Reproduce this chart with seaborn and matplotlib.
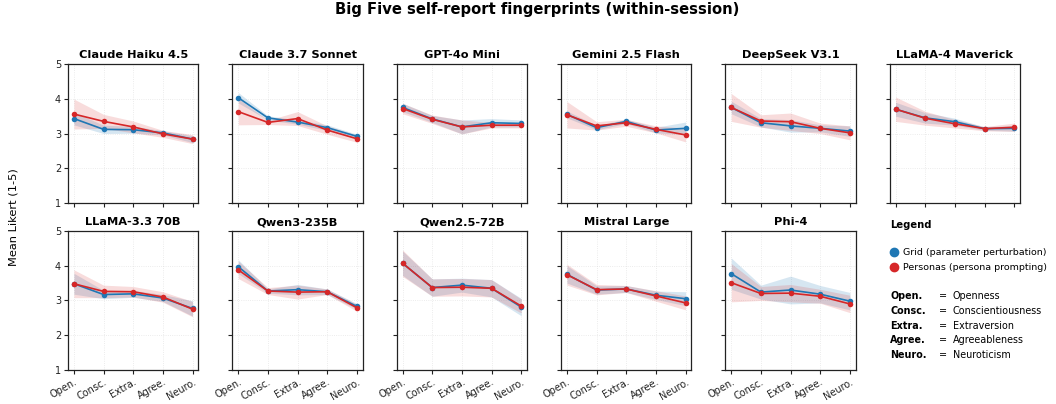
import numpy as np
import pandas as pd
import seaborn as sns
import matplotlib
matplotlib.use("Agg")
import matplotlib.pyplot as plt

traits = ["Open.", "Consc.", "Extra.", "Agree.", "Neuro."]
trait_names = ["Openness", "Conscientiousness", "Extraversion", "Agreeableness", "Neuroticism"]
models = ["Claude Haiku 4.5", "Claude 3.7 Sonnet", "GPT-4o Mini", "Gemini 2.5 Flash",
          "DeepSeek V3.1", "LLaMA-4 Maverick", "LLaMA-3.3 70B", "Qwen3-235B",
          "Qwen2.5-72B", "Mistral Large", "Phi-4"]

# mean scores per model (grid = parameter perturbation, persona = persona prompting)
grid_mean = [
    [3.43, 3.12, 3.11, 3.02, 2.84],
    [4.03, 3.45, 3.33, 3.17, 2.92],
    [3.75, 3.42, 3.19, 3.31, 3.29],
    [3.55, 3.17, 3.35, 3.10, 3.15],
    [3.75, 3.31, 3.22, 3.15, 3.07],
    [3.70, 3.45, 3.34, 3.14, 3.15],
    [3.48, 3.17, 3.19, 3.07, 2.77],
    [3.97, 3.27, 3.31, 3.25, 2.83],
    [4.07, 3.37, 3.44, 3.35, 2.81],
    [3.75, 3.30, 3.33, 3.15, 3.05],
    [3.77, 3.24, 3.30, 3.18, 2.98],
]
persona_mean = [
    [3.56, 3.35, 3.19, 2.99, 2.84],
    [3.63, 3.32, 3.43, 3.10, 2.85],
    [3.72, 3.41, 3.19, 3.24, 3.24],
    [3.54, 3.22, 3.31, 3.12, 2.96],
    [3.75, 3.36, 3.34, 3.15, 3.02],
    [3.70, 3.44, 3.28, 3.14, 3.18],
    [3.48, 3.26, 3.25, 3.10, 2.75],
    [3.88, 3.27, 3.24, 3.25, 2.79],
    [4.07, 3.37, 3.38, 3.35, 2.84],
    [3.74, 3.31, 3.33, 3.13, 2.93],
    [3.51, 3.20, 3.21, 3.12, 2.90],
]
# half-width of shaded band
grid_spread = [
    [0.18, 0.12, 0.10, 0.06, 0.10],
    [0.15, 0.06, 0.06, 0.08, 0.06],
    [0.12, 0.10, 0.20, 0.12, 0.10],
    [0.10, 0.06, 0.06, 0.08, 0.18],
    [0.18, 0.12, 0.18, 0.10, 0.15],
    [0.20, 0.15, 0.10, 0.05, 0.08],
    [0.30, 0.12, 0.10, 0.10, 0.22],
    [0.20, 0.06, 0.15, 0.08, 0.08],
    [0.35, 0.25, 0.20, 0.25, 0.25],
    [0.25, 0.12, 0.10, 0.12, 0.20],
    [0.45, 0.20, 0.40, 0.25, 0.25],
]
persona_spread = [
    [0.43, 0.20, 0.17, 0.10, 0.13],
    [0.38, 0.06, 0.20, 0.12, 0.10],
    [0.15, 0.12, 0.20, 0.08, 0.08],
    [0.38, 0.12, 0.10, 0.10, 0.20],
    [0.40, 0.18, 0.25, 0.15, 0.20],
    [0.35, 0.20, 0.12, 0.06, 0.12],
    [0.40, 0.18, 0.15, 0.15, 0.22],
    [0.25, 0.10, 0.20, 0.08, 0.10],
    [0.38, 0.25, 0.25, 0.25, 0.20],
    [0.30, 0.15, 0.10, 0.15, 0.20],
    [0.55, 0.20, 0.25, 0.20, 0.25],
]

BLUE = "#1f77b4"
RED = "#d62728"

sns.set_theme(style="ticks")
plt.rcParams["font.family"] = ["DejaVu Sans"]
plt.rcParams["text.color"] = "black"
plt.rcParams["xtick.color"] = "#222222"
plt.rcParams["ytick.color"] = "#222222"

fig, axes = plt.subplots(2, 6, figsize=(10.56, 4.04), dpi=100, sharex=True, sharey=True)
fig.subplots_adjust(left=0.0644, right=0.966, top=0.8416, bottom=0.0842, wspace=0.26, hspace=0.2)

xs = np.arange(len(traits))
for i, name in enumerate(models):
    ax = axes.flat[i]
    for mean, spread, col, fa in [(grid_mean[i], grid_spread[i], BLUE, 0.18),
                                  (persona_mean[i], persona_spread[i], RED, 0.16)]:
        m = np.array(mean)
        s = np.array(spread)
        ax.fill_between(xs, m - s, m + s, color=col, alpha=fa, linewidth=0)
        sns.lineplot(x=xs, y=m, ax=ax, color=col, marker="o", markersize=4,
                     markeredgewidth=0, linewidth=1.2)
    ax.set_title(name, fontsize=8.2, fontweight="bold", pad=4)
    ax.set_ylim(1, 5)
    ax.set_xlim(-0.2, 4.2)
    ax.set_yticks([1, 2, 3, 4, 5])
    ax.set_xticks(xs)
    ax.set_xticklabels(traits, rotation=30, ha="right", rotation_mode="anchor")
    ax.tick_params(labelsize=7, length=3, width=0.8, pad=2)
    ax.grid(True, linestyle=":", linewidth=0.6, alpha=0.5)
    for sp in ax.spines.values():
        sp.set_color("#222222")
        sp.set_linewidth(0.9)
    ax.set_xlabel("")
    ax.set_ylabel("")

# legend panel
lax = axes.flat[11]
lax.axis("off")
fig.text(0.843, 0.443, "Legend", fontsize=7.2, fontweight="bold", va="center")
fig.lines.append(plt.Line2D([0.8465], [0.376], marker="o", color=BLUE, markersize=6,
                            transform=fig.transFigure, linestyle=""))
fig.lines.append(plt.Line2D([0.8465], [0.339], marker="o", color=RED, markersize=6,
                            transform=fig.transFigure, linestyle=""))
fig.text(0.855, 0.376, "Grid (parameter perturbation)", fontsize=6.8, va="center")
fig.text(0.855, 0.339, "Personas (persona prompting)", fontsize=6.8, va="center")
for k, (ab, full) in enumerate(zip(traits, trait_names)):
    y = 0.267 - k * 0.0365
    fig.text(0.843, y, ab, fontsize=6.9, fontweight="bold", va="center")
    fig.text(0.889, y, "=", fontsize=6.9, va="center")
    fig.text(0.902, y, full, fontsize=6.9, va="center")

fig.suptitle("Big Five self-report fingerprints (within-session)", fontsize=10.6,
             fontweight="bold", x=0.509, y=0.995)
fig.text(0.013, 0.463, "Mean Likert (1-5)", rotation=90, fontsize=8.2, va="center", ha="center")

fig.savefig("out.png", dpi=100)
